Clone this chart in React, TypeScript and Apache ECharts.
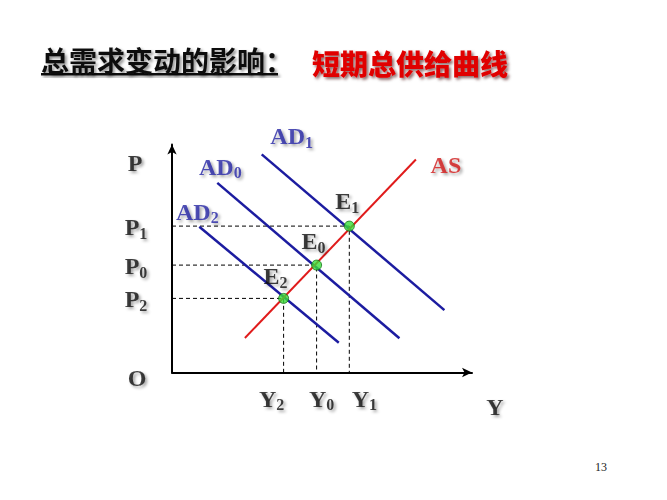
import React, { useEffect, useRef } from "react";
import * as echarts from "echarts";

// ---- data (abstract diagram units) ----
const X_MAX = 100;
const Y_MAX = 76;
const asLine = [[24.3, 11.5], [81.3, 71]];
const ad0Line = [[15.1, 63.2], [75.8, 11.4]];
const ad1Line = [[29.9, 72.7], [90.8, 20.8]];
const ad2Line = [[9.1, 48.6], [55.6, 9.9]];
const eqSubs = ["2", "0", "1"];
const eqX = [37.2, 48.2, 59.1];
const eqY = [24.7, 35.8, 48.8];
const curveNames = ["AD", "AD", "AD", "AS"];
const curveSubs = ["1", "0", "2", ""];

const SERIF = '"Liberation Serif", "Times New Roman", "DejaVu Serif", serif';
const shadow = {
  textShadowColor: "rgba(0,0,0,0.45)",
  textShadowBlur: 3,
  textShadowOffsetX: 2,
  textShadowOffsetY: 2,
};

function rich(color: string) {
  return {
    m: { fontFamily: SERIF, fontWeight: "bold", fontSize: 24, lineHeight: 28, color, ...shadow },
    s: { fontFamily: SERIF, fontWeight: "bold", fontSize: 16, lineHeight: 15, verticalAlign: "bottom", color, ...shadow },
  };
}
function fmt(main: string, sub: string) {
  return sub ? `{m|${main}}{s|${sub}}` : `{m|${main}}`;
}

export default function App() {
  const ref = useRef<HTMLDivElement>(null);
  useEffect(() => {
    if (!ref.current) return;
    const chart = echarts.init(ref.current, undefined, { renderer: "svg" });

    const blue = "#1c1ca0";
    const blueText = "#2424a4";
    const red = "#e01b1b";
    const redText = "#d01818";

    const guideSeries = eqX.map((x, i) => ({
      type: "line",
      data: [[0, eqY[i]], [x, eqY[i]], [x, 0]],
      symbol: "none",
      silent: true,
      lineStyle: { color: "#000", width: 1, type: [4, 3] },
      z: 1,
    }));

    const lineSeries = [ad1Line, ad0Line, ad2Line].map((d) => ({
      type: "line",
      data: d,
      symbol: "none",
      silent: true,
      lineStyle: { color: blue, width: 2.5 },
      z: 2,
    }));

    const curveAnchors = [ad1Line[0], ad0Line[0], ad2Line[0], asLine[1]];
    const curveOffsets = [[30, -18], [3, -16], [-2, -15], [30, 5]];

    const yTickOffsets = [[-12, 26], [5, 26], [15, 26]];

    const option: any = {
      animation: false,
      grid: { left: 172, right: 195, top: 144.5, bottom: 127.5, containLabel: false },
      title: [
        {
          text: "总需求变动的影响：",
          left: 41,
          top: 46,
          padding: 0,
          textStyle: {
            fontFamily: '"Noto Sans CJK SC", sans-serif',
            fontWeight: "bold",
            fontSize: 28,
            color: "#111",
            ...shadow,
          },
        },
        {
          text: "短期总供给曲线",
          left: 312,
          top: 49,
          padding: 0,
          textStyle: {
            fontFamily: '"Noto Sans CJK SC", sans-serif',
            fontWeight: 900,
            fontSize: 28,
            color: "#e00000",
            textShadowColor: "rgba(60,0,0,0.6)",
            textShadowBlur: 3,
            textShadowOffsetX: 2,
            textShadowOffsetY: 2,
          },
        },
      ],
      graphic: [
        {
          type: "rect",
          shape: { x: 41, y: 73, width: 237, height: 2.5 },
          style: { fill: "#111", shadowColor: "rgba(0,0,0,0.4)", shadowBlur: 3, shadowOffsetX: 2, shadowOffsetY: 2 },
        },
        {
          type: "text",
          x: 601,
          y: 467,
          style: { text: "13", fontSize: 12, fontFamily: SERIF, fill: "#222", align: "center", verticalAlign: "middle" },
        },
      ],
      xAxis: {
        type: "value",
        min: 0,
        max: X_MAX,
        axisLine: { show: true, lineStyle: { color: "#000", width: 2 }, symbol: ["none", "arrow"], symbolSize: [7, 10] },
        axisTick: { show: false },
        axisLabel: { show: false },
        splitLine: { show: false },
      },
      yAxis: {
        type: "value",
        min: 0,
        max: Y_MAX,
        axisLine: { show: true, lineStyle: { color: "#000", width: 2 }, symbol: ["none", "arrow"], symbolSize: [7, 10] },
        axisTick: { show: false },
        axisLabel: { show: false },
        splitLine: { show: false },
      },
      series: [
        ...guideSeries,
        ...lineSeries,
        {
          type: "line",
          data: asLine,
          symbol: "none",
          silent: true,
          lineStyle: { color: red, width: 2 },
          z: 3,
        },
        // equilibrium points with labels E_i
        {
          type: "scatter",
          symbolSize: 10,
          clip: false,
          silent: true,
          z: 5,
          itemStyle: { color: "#3ade3a", borderColor: "#167016", borderWidth: 1 },
          data: eqX.map((x, i) => ({
            value: [x, eqY[i]],
            label: {
              show: true,
              position: "inside",
              offset: [[-8, -22], [-3, -24], [-2, -25]][i],
              formatter: fmt("E", eqSubs[i]),
              rich: rich("#111"),
            },
          })),
        },
        // P tick labels
        {
          type: "scatter",
          symbolSize: 0,
          clip: false,
          silent: true,
          data: eqY.map((y, i) => ({
            value: [0, y],
            label: {
              show: true,
              position: "inside",
              offset: [-36, 1],
              formatter: fmt("P", eqSubs[i]),
              rich: rich("#111"),
            },
          })),
        },
        // Y tick labels
        {
          type: "scatter",
          symbolSize: 0,
          clip: false,
          silent: true,
          data: eqX.map((x, i) => ({
            value: [x, 0],
            label: {
              show: true,
              position: "inside",
              offset: yTickOffsets[i],
              formatter: fmt("Y", eqSubs[i]),
              rich: rich("#111"),
            },
          })),
        },
        // axis names P, O, Y
        {
          type: "scatter",
          symbolSize: 0,
          clip: false,
          silent: true,
          data: [
            { value: [0, Y_MAX], label: { show: true, position: "inside", offset: [-37, 18], formatter: fmt("P", ""), rich: rich("#111") } },
            { value: [0, 0], label: { show: true, position: "inside", offset: [-35, 5], formatter: fmt("O", ""), rich: rich("#111") } },
            { value: [X_MAX, 0], label: { show: true, position: "inside", offset: [23, 34], formatter: fmt("Y", ""), rich: rich("#111") } },
          ],
        },
        // curve labels
        {
          type: "scatter",
          symbolSize: 0,
          clip: false,
          silent: true,
          data: curveAnchors.map((p, i) => ({
            value: p,
            label: {
              show: true,
              position: "inside",
              offset: curveOffsets[i],
              formatter: fmt(curveNames[i], curveSubs[i]),
              rich: rich(curveNames[i] === "AS" ? redText : blueText),
            },
          })),
        },
      ],
    };
    chart.setOption(option);
    return () => chart.dispose();
  }, []);
  return (
    <div
      ref={ref}
      style={{ position: "absolute", left: 0, top: 0, width: 667, height: 500, background: "#fff" }}
    />
  );
}
